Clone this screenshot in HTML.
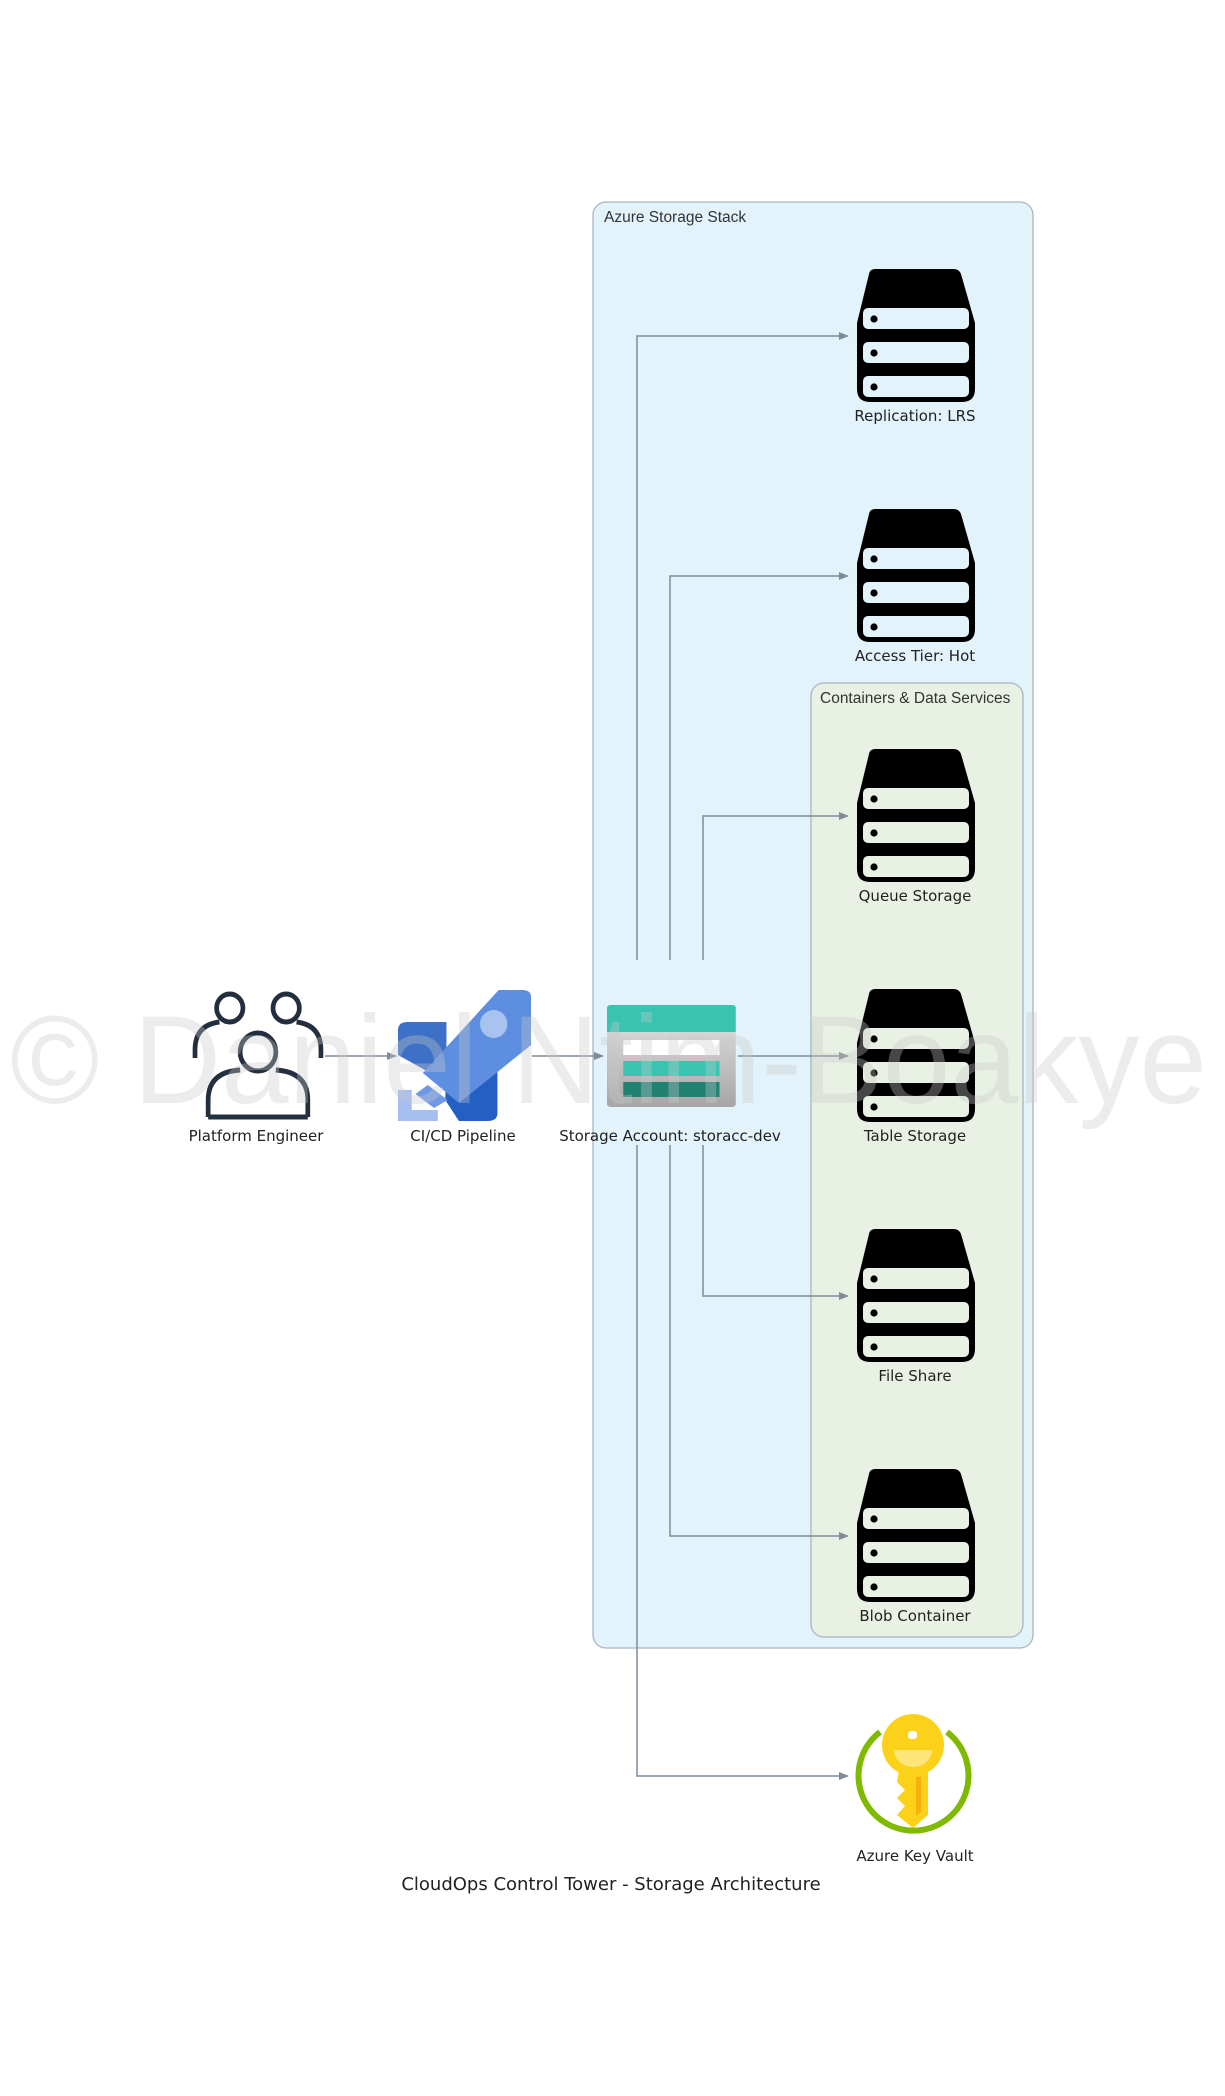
<!DOCTYPE html>
<html><head><meta charset="utf-8"><style>html,body{margin:0;padding:0;background:#fff}svg{display:block}</style></head>
<body>
<svg width="1225" height="2096" viewBox="0 0 1225 2096" xmlns="http://www.w3.org/2000/svg" font-family="'DejaVu Sans','Liberation Sans',sans-serif">
<defs>
<marker id="ah" markerWidth="10" markerHeight="8" refX="9" refY="4" orient="auto" markerUnits="userSpaceOnUse"><path d="M0,0 L10,4 L0,8 z" fill="#7f8b99"/></marker>
<g id="srv">
<path d="M14,0 H97 Q102,0 104,5 L118,54 V120 Q118,133 105,133 H13 Q0,133 0,120 V54 L12,5 Q13,0 18,0 z" fill="#000"/>
<rect x="6" y="39" width="106" height="21" rx="5" fill="currentColor"/>
<rect x="6" y="73" width="106" height="21" rx="5" fill="currentColor"/>
<rect x="6" y="107" width="106" height="21" rx="5" fill="currentColor"/>
<circle cx="17" cy="50" r="3.6" fill="#000"/><circle cx="17" cy="84" r="3.6" fill="#000"/><circle cx="17" cy="118" r="3.6" fill="#000"/>
</g>
<linearGradient id="sg" x1="0" y1="0" x2="0" y2="1"><stop offset="0" stop-color="#e6e6e6"/><stop offset="1" stop-color="#a6a6a6"/></linearGradient>
</defs>
<rect x="593" y="202" width="440" height="1446" rx="13" fill="#e2f3fb" stroke="#a9b5c0" stroke-width="1.3"/>
<text x="604" y="222" font-size="15.5" fill="#333" font-family="'Liberation Sans',sans-serif">Azure Storage Stack</text>
<rect x="811" y="683" width="212" height="954" rx="13" fill="#e9f1e4" stroke="#a9b5c0" stroke-width="1.3"/>
<text x="820" y="703" font-size="15.5" fill="#333" font-family="'Liberation Sans',sans-serif">Containers &amp; Data Services</text>

<g stroke="#7f8b99" stroke-width="1.5" fill="none" marker-end="url(#ah)">
<path d="M325,1056 H396"/>
<path d="M532,1056 H603"/>
<path d="M738,1056 H848"/>
<path d="M637,960 V336 H848"/>
<path d="M670,960 V576 H848"/>
<path d="M703,960 V816 H848"/>
<path d="M703,1145 V1296 H848"/>
<path d="M670,1145 V1536 H848"/>
<path d="M637,1145 V1776 H848"/>
</g>

<use href="#srv" x="857" y="269" color="#e2f3fb"/>
<use href="#srv" x="857" y="509" color="#e2f3fb"/>
<use href="#srv" x="857" y="749" color="#e9f1e4"/>
<use href="#srv" x="857" y="989" color="#e9f1e4"/>
<use href="#srv" x="857" y="1229" color="#e9f1e4"/>
<use href="#srv" x="857" y="1469" color="#e9f1e4"/>
<g font-size="15" fill="#222" text-anchor="middle">
<text x="915" y="421">Replication: LRS</text>
<text x="915" y="661">Access Tier: Hot</text>
<text x="915" y="901">Queue Storage</text>
<text x="915" y="1141">Table Storage</text>
<text x="915" y="1381">File Share</text>
<text x="915" y="1621">Blob Container</text>
<text x="915" y="1861">Azure Key Vault</text>
<text x="256" y="1141">Platform Engineer</text>
<text x="463" y="1141">CI/CD Pipeline</text>
<text x="670" y="1141">Storage Account: storacc-dev</text>
</g>

<!-- people icon -->
<g transform="translate(195,0) scale(0.94,1) translate(-192,0)" fill="none" stroke="#232f3e" stroke-width="5">
<circle cx="229" cy="1008" r="14"/><circle cx="289" cy="1008" r="14"/>
<path d="M192,1058 V1050 Q192,1025 218,1022"/>
<path d="M326,1058 V1050 Q326,1025 300,1022"/>
<circle cx="259" cy="1052" r="19"/>
<path d="M206,1117 V1100 Q206,1072 240,1070 M312,1117 V1100 Q312,1072 278,1070 M206,1117 H312"/>
</g>

<!-- pipeline icon -->
<g transform="translate(398,0) scale(1.243,1) translate(-356,0)">
<path d="M356,1030 Q356,1022 364,1022 H395 V1082 L356,1055 z" fill="#3d70c7"/>
<path d="M395,1060 L436,1050 V1113 Q436,1121 428,1121 H405 L394,1100 z" fill="#245fc4"/>
<path d="M437,990 H456 Q463,990 463,997 V1045 L405,1103 L376,1073 z" fill="#5e8ee0"/>
<ellipse cx="433" cy="1024" rx="11" ry="14" fill="#a9c3f0"/>
<path d="M380,1085 L396,1100 L385,1108 L370,1094 z" fill="#6f99e6"/>
<path d="M356,1090 V1121 H388 V1110 H367 V1090 z" fill="#a4bff0"/>
</g>

<!-- storage account icon -->
<g transform="translate(607,0) scale(1.25,1) translate(-527,0)">
<rect x="527" y="1005" width="103" height="102" rx="3" fill="url(#sg)"/>
<path d="M530,1005 H627 Q630,1005 630,1008 V1032 H527 V1008 Q527,1005 530,1005 z" fill="#3ac3b0"/>
<rect x="540" y="1040" width="77" height="15" fill="#fff"/>
<rect x="540" y="1061" width="77" height="15" fill="#3ac3b0"/>
<rect x="540" y="1082" width="77" height="15" fill="#218272"/>
</g>

<!-- key vault -->
<path d="M880,1732 A55,55 0 1 0 947,1732" fill="none" stroke="#7fba00" stroke-width="6"/>
<circle cx="913" cy="1745" r="31" fill="#fcd11a"/>
<path d="M894,1750 H932 A19,17 0 0 1 894,1750 z" fill="#fde57a"/>
<rect x="908" y="1731" width="9" height="8" rx="3" fill="#fff"/>
<path d="M899,1770 H928 V1815 L913,1828 L897,1815 L905,1806 L897,1798 L905,1790 L897,1782 z" fill="#fcd11a"/>
<path d="M916,1777 H921 V1812 L916,1816 z" fill="#f5b10a"/>

<text x="611" y="1890" font-size="18" fill="#222" text-anchor="middle">CloudOps Control Tower - Storage Architecture</text>

<text x="10" y="1103" font-size="125" fill="#c8c8c8" fill-opacity="0.35" font-family="'Liberation Sans',sans-serif" textLength="1197" lengthAdjust="spacingAndGlyphs">© Daniel Ntim-Boakye</text>
</svg>
</body></html>
